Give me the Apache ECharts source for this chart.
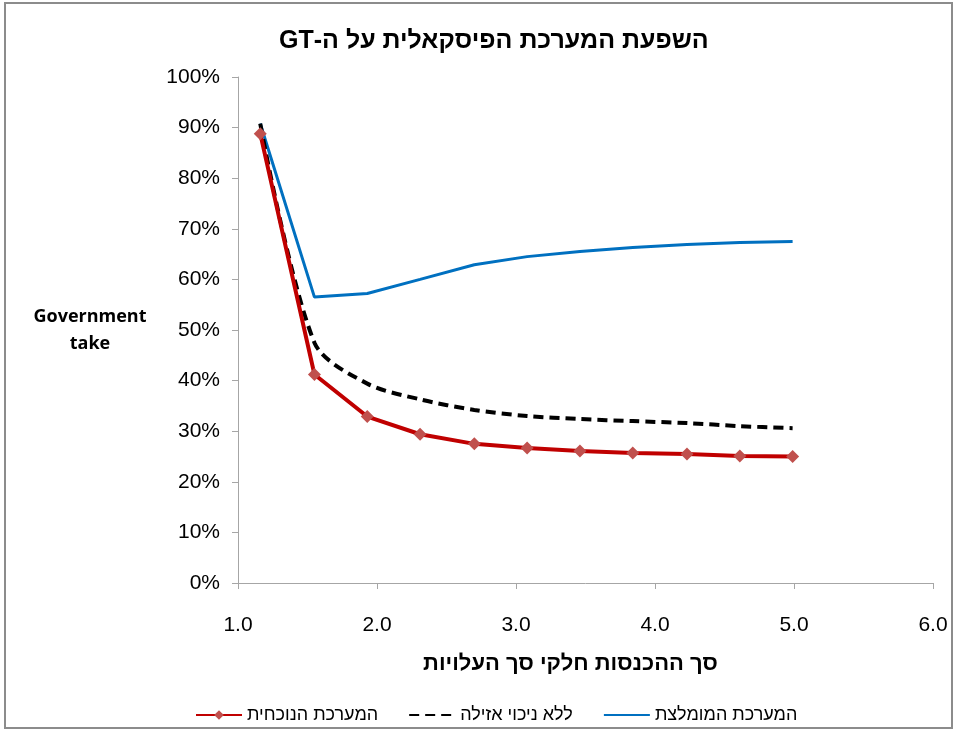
<!DOCTYPE html>
<html>
<head>
<meta charset="utf-8">
<script src="https://cdn.jsdelivr.net/npm/echarts@6/dist/echarts.min.js"></script>
<style>
  html, body { margin: 0; padding: 0; background: #fff; }
  #chart { position: absolute; left: 4px; top: 2px; width: 949px; height: 727px; border: 2px solid #8c8c8c; box-sizing: border-box; }
</style>
</head>
<body>
<div id="chart"></div>
<script>
// ratio of revenues to costs
const xValues = [1.16, 1.55, 1.93, 2.31, 2.70, 3.08, 3.46, 3.84, 4.23, 4.61, 4.99];
// government take, %
const currentSystem = [88.8, 41.2, 32.9, 29.4, 27.5, 26.7, 26.1, 25.7, 25.5, 25.1, 25.0];
const noDepletion = [90.8, 47.5, 39.4, 36.3, 34.2, 33.0, 32.4, 32.0, 31.6, 31.0, 30.6];
const recommended = [90.8, 56.5, 57.2, 60.0, 62.9, 64.5, 65.5, 66.3, 66.9, 67.3, 67.5];

const seriesNames = ['המערכת הנוכחית', 'ללא ניכוי אזילה', 'המערכת המומלצת'];
const pairs = arr => arr.map((v, i) => [xValues[i], v]);

const font = 'Arial, "Liberation Sans", sans-serif';
const chart = echarts.init(document.getElementById('chart'));
chart.setOption({
  animation: false,
  title: {
    // RLE ... PDF so the title is laid out right-to-left
    text: '\u202Bהשפעת המערכת הפיסקאלית על ה-GT\u202C',
    left: 268, top: 20,
    textStyle: { fontFamily: font, fontSize: 25, fontWeight: 'bold', color: '#000' }
  },
  grid: { left: 232, right: 18, top: 73, bottom: 144 },
  legend: {
    data: seriesNames,
    left: 184, top: 697,
    itemWidth: 46, itemHeight: 12, itemGap: 30,
    textStyle: { fontFamily: font, fontSize: 18, color: '#000' }
  },
  xAxis: {
    type: 'value', min: 1, max: 6, interval: 1,
    name: 'סך ההכנסות חלקי סך העלויות',
    nameLocation: 'middle', nameGap: 70,
    nameTextStyle: { fontFamily: font, fontSize: 22, fontWeight: 'bold', color: '#000', padding: [0, 30, 0, 0] },
    axisLine: { lineStyle: { color: '#a6a6a6', width: 1 } },
    axisTick: { show: true, length: 6, lineStyle: { color: '#a6a6a6' } },
    axisLabel: { fontFamily: font, fontSize: 21, color: '#000', margin: 32, formatter: v => v.toFixed(1) },
    splitLine: { show: false }
  },
  yAxis: {
    type: 'value', min: 0, max: 100, interval: 10,
    name: 'Government\ntake',
    nameLocation: 'middle', nameRotate: 0, nameGap: 148,
    nameTextStyle: { fontFamily: '"Open Sans", sans-serif', fontSize: 18, fontWeight: 'bold', color: '#000', align: 'center', lineHeight: 27, padding: [8, 0, 0, 0] },
    axisLine: { show: true, lineStyle: { color: '#a6a6a6', width: 1 } },
    axisTick: { show: true, length: 6, lineStyle: { color: '#a6a6a6' } },
    axisLabel: { fontFamily: font, fontSize: 21, color: '#000', margin: 18, formatter: '{value}%' },
    splitLine: { show: false }
  },
  series: [
    {
      name: seriesNames[0], type: 'line', data: pairs(currentSystem),
      symbol: 'diamond', symbolSize: 13,
      itemStyle: { color: '#C0504D' },
      lineStyle: { color: '#C00000', width: 4 },
      z: 4
    },
    {
      name: seriesNames[1], type: 'line', data: pairs(noDepletion),
      symbol: 'none', smooth: 0.3,
      itemStyle: { color: '#000', opacity: 0 },
      lineStyle: { color: '#000', width: 4, type: [10, 6] },
      z: 3
    },
    {
      name: seriesNames[2], type: 'line', data: pairs(recommended),
      symbol: 'none',
      itemStyle: { color: '#0070C0', opacity: 0 },
      lineStyle: { color: '#0070C0', width: 3 },
      z: 2
    }
  ]
});
</script>
</body>
</html>
